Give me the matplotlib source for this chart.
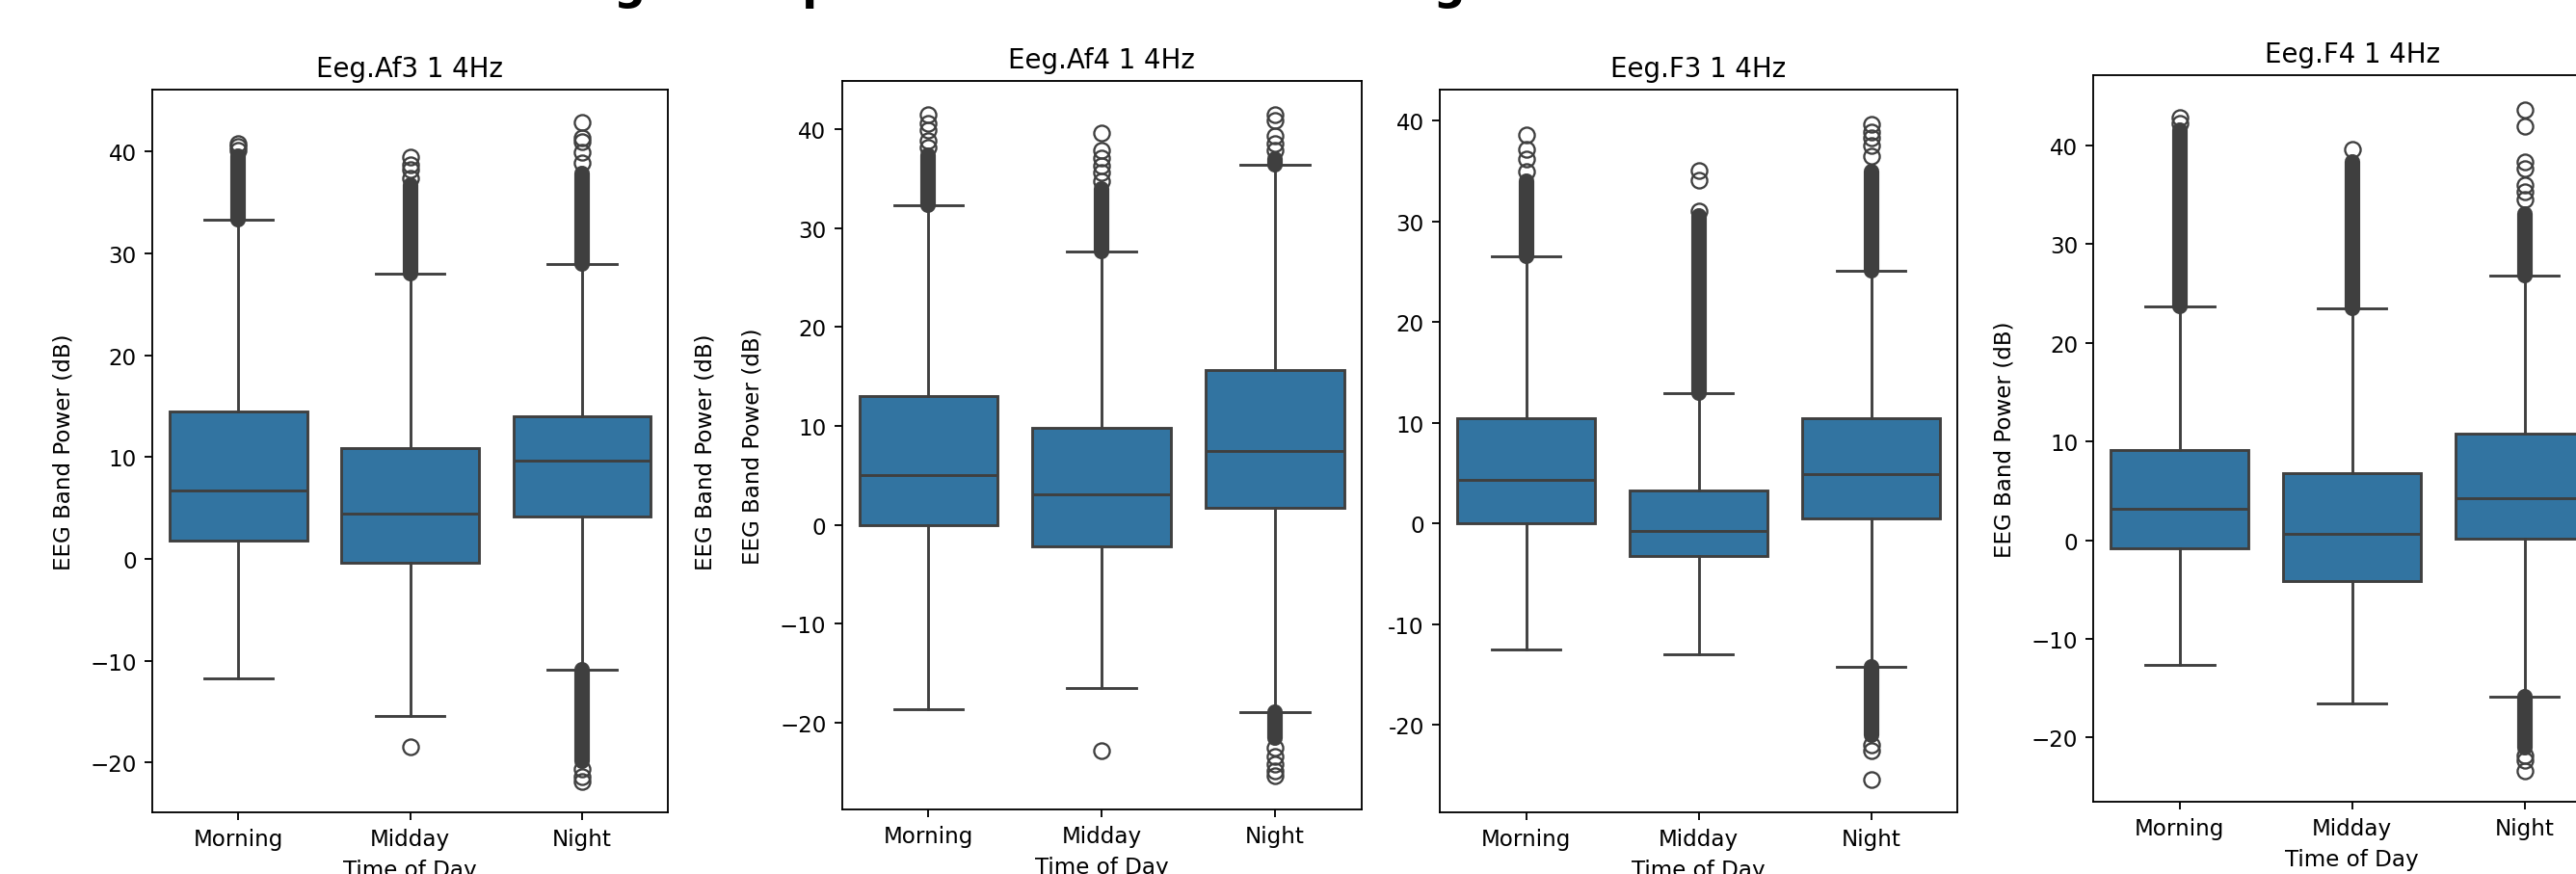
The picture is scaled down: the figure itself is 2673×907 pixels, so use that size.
import matplotlib
matplotlib.use("Agg")
import matplotlib.pyplot as plt
from matplotlib.ticker import FuncFormatter

# --- datos ---
categories = ["Morning", "Midday", "Night"]
titles = ["Eeg.Af3 1 4Hz", "Eeg.Af4 1 4Hz", "Eeg.F3 1 4Hz", "Eeg.F4 1 4Hz"]

# one row per panel, one value per category (Morning, Midday, Night)
q1 = [[1.8, -0.35, 4.15], [0.0, -2.2, 1.73], [0.0, -3.24, 0.48], [-0.81, -4.16, 0.1]]
medians = [[6.75, 4.4, 9.66], [5.07, 3.08, 7.5], [4.3, -0.74, 4.93], [3.14, 0.65, 4.2]]
q3 = [[14.5, 10.9, 14.0], [13.0, 9.77, 15.65], [10.45, 3.24, 10.45], [9.14, 6.81, 10.76]]
whisker_low = [[-11.7, -15.4, -10.9], [-18.7, -16.5, -19.0], [-12.5, -13.0, -14.2], [-12.6, -16.5, -15.9]]
whisker_high = [[33.3, 28.0, 29.0], [32.3, 27.6, 36.4], [26.5, 12.9, 25.1], [23.7, 23.5, 26.8]]

# single outliers that can be told apart
fliers = [
    [[40.1, 40.5, 40.8], [37.4, 38.2, 38.7, 39.5, -18.5], [38.9, 39.9, 41.0, 41.4, 42.9, -20.6, -21.4, -21.9]],
    [[38.2, 38.9, 39.9, 40.6, 41.5], [34.8, 35.6, 36.3, 37.1, 37.9, 39.6, -22.9],
     [37.9, 38.6, 39.3, 40.9, 41.5, -22.6, -23.4, -24.2, -24.9, -25.4]],
    [[35.0, 36.2, 37.2, 38.6], [31.0, 34.1, 35.1], [36.5, 37.5, 38.3, 38.9, 39.7, -22.0, -22.6, -25.4]],
    [[42.2, 42.8], [39.6], [34.5, 35.3, 36.0, 37.6, 38.3, 41.9, 43.6, -21.8, -22.3, -23.4]],
]

# ranges where the outliers overlap into a solid column
dense_fliers = [
    [[(33.3, 39.6)], [(28.0, 36.7)], [(29.0, 37.9), (-19.9, -10.9)]],
    [[(32.3, 37.4)], [(27.6, 34.0)], [(36.4, 37.0), (-21.6, -19.0)]],
    [[(26.5, 34.0)], [(12.9, 30.6)], [(25.1, 35.0), (-21.0, -14.2)]],
    [[(23.7, 41.5)], [(23.5, 38.3)], [(26.8, 33.0), (-21.0, -15.9)]],
]

# --- figura ---
W, H, DPI = 2673, 908, 166
BOX = "#3274a1"
LINE = "#3f3f3f"

axes_px = [(158, 94, 693, 844), (873.6, 85, 1412.7, 841),
           (1494, 94, 2031, 844), (2172.4, 79, 2709, 833)]
ylims = [(-24.9, 46.1), (-28.8, 44.9), (-28.7, 43.1), (-26.5, 47.1)]
show_ylabel = [True, True, False, True]

fig = plt.figure(figsize=(W / DPI, H / DPI), dpi=DPI)

for i, (l, t, r, b) in enumerate(axes_px):
    ax = fig.add_axes([l / W, 1 - b / H, (r - l) / W, (b - t) / H])
    stats = []
    for j in range(3):
        stats.append(dict(med=medians[i][j], q1=q1[i][j], q3=q3[i][j],
                          whislo=whisker_low[i][j], whishi=whisker_high[i][j],
                          fliers=fliers[i][j]))
    ax.bxp(stats, positions=[0, 1, 2], widths=0.8, patch_artist=True,
           boxprops=dict(facecolor=BOX, edgecolor=LINE, linewidth=1.25),
           medianprops=dict(color=LINE, linewidth=1.25),
           whiskerprops=dict(color=LINE, linewidth=1.25),
           capprops=dict(color=LINE, linewidth=1.25),
           flierprops=dict(marker="o", markerfacecolor="none",
                           markeredgecolor=LINE, markersize=7, markeredgewidth=1.0))
    for j, ranges in enumerate(dense_fliers[i]):
        for lo, hi in ranges:
            lc = ax.vlines(j, lo, hi, colors=LINE, linewidth=7.0)
            lc.set_capstyle("round")

    ax.set_xticks([0, 1, 2])
    ax.set_xticklabels(categories)
    ax.set_xlim(-0.5, 2.5)
    ax.set_ylim(ylims[i])
    ax.set_title(titles[i])
    ax.set_xlabel("Time of Day")
    if show_ylabel[i]:
        ax.set_ylabel("EEG Band Power (dB)", labelpad=7)
    if i == 2:
        # este panel usa guion simple en los negativos
        ax.yaxis.set_major_formatter(FuncFormatter(lambda v, p: f"{v:g}"))

# etiqueta duplicada del segundo panel
fig.text(732 / W, 1 - 469 / H, "EEG Band Power (dB)", rotation=90,
         ha="center", va="center", fontsize=10)

# titulo general, casi fuera de la imagen (solo se ven los trazos bajos)
fig.text(78 / W, 1 + 1 / H, "Distribution of EEG log band power across the time segments",
         ha="left", va="baseline", fontsize=20, fontweight="bold")

fig.savefig("out.png", dpi=DPI)
